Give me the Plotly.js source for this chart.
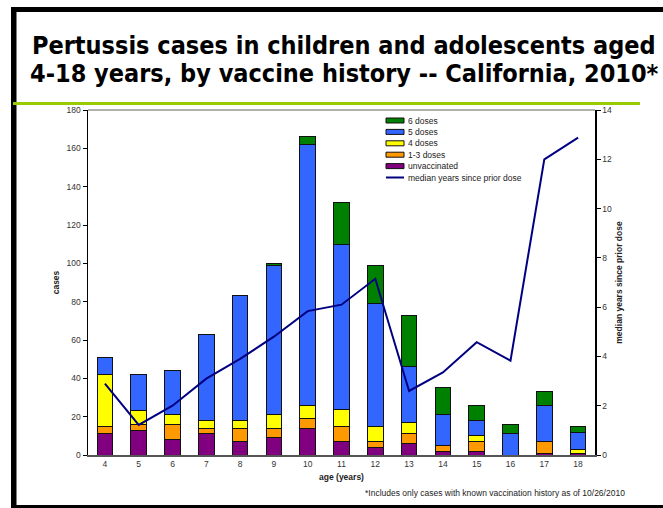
<!DOCTYPE html>
<html>
<head>
<meta charset="utf-8">
<script src="https://cdn.plot.ly/plotly-3.0.1.min.js"></script>
<style>
html,body{margin:0;padding:0;background:#fff;}
#chart{width:663px;height:508px;}
</style>
</head>
<body>
<div id="chart"></div>
<script>
// ---- data ----
var ages = [4, 5, 6, 7, 8, 9, 10, 11, 12, 13, 14, 15, 16, 17, 18];
var unvaccinated = [11, 13, 8, 11, 7, 9, 14, 7, 4, 6, 2, 2, 0, 1, 1];
var doses1to3   = [4, 3, 8, 3, 7, 5, 5, 8, 3, 5, 3, 5, 0, 6, 0];
var doses4      = [27, 7, 5, 4, 4, 7, 7, 9, 8, 6, 0, 3, 0, 0, 2];
var doses5      = [9, 19, 23, 45, 65, 78, 136, 86, 64, 29, 16, 8, 11, 19, 9];
var doses6      = [0, 0, 0, 0, 0, 1, 4, 22, 20, 27, 14, 8, 5, 7, 3];
var medianYears = [2.9, 1.22, 2.0, 3.1, 3.9, 4.8, 5.84, 6.1, 7.15, 2.6, 3.35, 4.58, 3.83, 12.0, 12.88];

var seriesNames = ['unvaccinated', '1-3 doses', '4 doses', '5 doses', '6 doses'];
var seriesColors = ['#800080', '#ff9900', '#ffff00', '#3366ff', '#008000'];
var seriesValues = [unvaccinated, doses1to3, doses4, doses5, doses6];
var lineName = 'median years since prior dose';
var lineColor = '#000080';

var titleLine1 = 'Pertussis cases in children and adolescents aged';
var titleLine2 = '4-18 years, by vaccine history -- California, 2010*';
var footnote = '*Includes only cases with known vaccination history as of 10/26/2010';

// ---- traces ----
var traces = [];
for (var i = 0; i < seriesNames.length; i++) {
  traces.push({
    type: 'bar', x: ages, y: seriesValues[i], name: seriesNames[i],
    width: 0.46,
    marker: {color: seriesColors[i], line: {color: '#111', width: 1}},
    hoverinfo: 'x+y+name'
  });
}
traces.push({
  type: 'scatter', mode: 'lines', x: ages, y: medianYears, yaxis: 'y2',
  name: lineName, line: {color: lineColor, width: 2}
});

// ---- helpers: pixel -> paper ----
var L = 88, R = 595, T = 110, B = 455;
function px(x) { return (x - L) / (R - L); }
function py(y) { return (B - y) / (B - T); }

var textFont = 'Liberation Sans, Arial, sans-serif';
var titleFont = 'DejaVu Sans Condensed, DejaVu Sans, sans-serif';
var shapes = [
  // plot top border
  {type:'line', xref:'paper', yref:'paper', x0:0, x1:1, y0:1, y1:1, line:{color:'#b0b0b0', width:2}},
  // slide frame
  {type:'rect', xref:'paper', yref:'paper', x0:px(11), x1:px(670), y0:py(7), y1:py(12), fillcolor:'#000', line:{width:0}},
  {type:'rect', xref:'paper', yref:'paper', x0:px(11), x1:px(16.5), y0:py(7), y1:py(512), fillcolor:'#000', line:{width:0}},
  {type:'rect', xref:'paper', yref:'paper', x0:px(11), x1:px(670), y0:py(505), y1:py(512), fillcolor:'#000', line:{width:0}},
  // green rule
  {type:'rect', xref:'paper', yref:'paper', x0:px(13), x1:px(640), y0:py(102), y1:py(105), fillcolor:'#99cc00', line:{width:0}}
];

var annotations = [
  {xref:'paper', yref:'paper', x:px(344), y:py(45), text:'<b>' + titleLine1 + '</b>', showarrow:false,
   xanchor:'center', yanchor:'middle', font:{family:titleFont, size:25, color:'#000'}},
  {xref:'paper', yref:'paper', x:px(344), y:py(74), text:'<b>' + titleLine2 + '</b>', showarrow:false,
   xanchor:'center', yanchor:'middle', font:{family:titleFont, size:25, color:'#000'}},
  {xref:'paper', yref:'paper', x:px(627), y:py(493), text:footnote, showarrow:false,
   xanchor:'right', yanchor:'middle', font:{family:textFont, size:8.5, color:'#222'}}
];

// manual legend (order: 6 doses ... unvaccinated, then line)
var legY0 = 120.5, legStep = 11.4;
var order = [4, 3, 2, 1, 0];
for (var k = 0; k < order.length; k++) {
  var idx = order[k];
  var yc = legY0 + k * legStep;
  shapes.push({type:'rect', xref:'paper', yref:'paper', x0:px(386), x1:px(404), y0:py(yc + 2.5), y1:py(yc - 2.5),
    fillcolor: seriesColors[idx], line:{color:'#111', width:1}});
  annotations.push({xref:'paper', yref:'paper', x:px(405.5), y:py(yc), text:seriesNames[idx], showarrow:false,
    xanchor:'left', yanchor:'middle', font:{family:textFont, size:8.5, color:'#222'}});
}
var ycl = legY0 + order.length * legStep;
shapes.push({type:'line', xref:'paper', yref:'paper', x0:px(386), x1:px(404), y0:py(ycl), y1:py(ycl), line:{color:lineColor, width:2}});
annotations.push({xref:'paper', yref:'paper', x:px(405.5), y:py(ycl), text:lineName, showarrow:false,
  xanchor:'left', yanchor:'middle', font:{family:textFont, size:8.5, color:'#222'}});

var layout = {
  width: 663, height: 508,
  margin: {l: L, r: 663 - R, t: T, b: 508 - B, pad: 0},
  paper_bgcolor: '#fff', plot_bgcolor: '#fff',
  barmode: 'stack', showlegend: false,
  font: {family: textFont, size: 8.5, color: '#333'},
  xaxis: {
    range: [3.5, 18.5], tickvals: ages, ticktext: ages.map(String), ticks: '',
    showline: true, linecolor: '#555', linewidth: 2, showgrid: false, zeroline: false,
    tickfont: {size: 8.5, color: '#333'},
    title: {text: '<b>age (years)</b>', font: {size: 8.5, color: '#222'}, standoff: 6}
  },
  yaxis: {
    range: [0, 180], dtick: 20, ticks: 'outside', ticklen: 4, tickcolor: '#000', tickwidth: 1,
    showline: true, linecolor: '#000', linewidth: 1.5, showgrid: false, zeroline: false,
    tickfont: {size: 8.5, color: '#333'},
    title: {text: '<b>cases</b>', font: {size: 8.5, color: '#222'}, standoff: 5}
  },
  yaxis2: {
    overlaying: 'y', side: 'right', range: [0, 14], dtick: 2, ticks: 'outside', ticklen: 4,
    tickcolor: '#000', tickwidth: 1, showline: true, linecolor: '#000', linewidth: 1.5,
    showgrid: false, zeroline: false, tickfont: {size: 8.5, color: '#333'},
    title: {text: '<b>median years since prior dose</b>', font: {size: 8.5, color: '#222'}, standoff: 5}
  },
  shapes: shapes,
  annotations: annotations
};

Plotly.newPlot('chart', traces, layout, {staticPlot: true, displayModeBar: false});
</script>
</body>
</html>
